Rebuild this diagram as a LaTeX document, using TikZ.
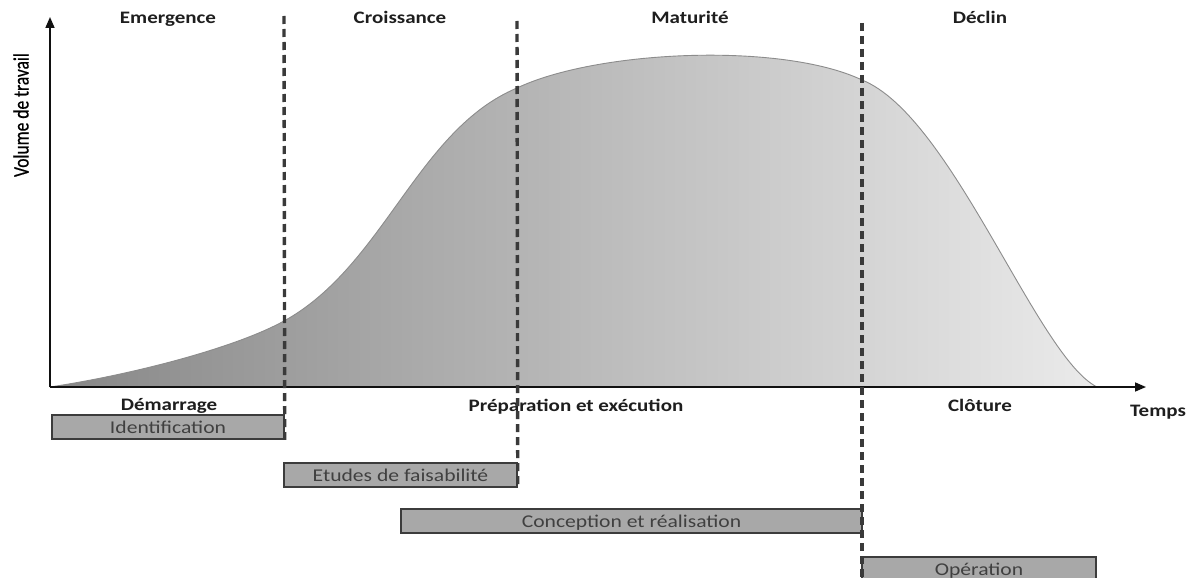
\documentclass[tikz,border=0pt]{standalone}
\usepackage{fontspec}
\setmainfont{Carlito}[FakeStretch=1.2]
\newfontfamily\plainfont{Carlito}[FakeBold=0.7]
\usetikzlibrary{arrows.meta}

\definecolor{axisblack}{HTML}{111111}
\definecolor{dividergray}{HTML}{3A3A3A}
\definecolor{barfill}{HTML}{A8A8A8}
\definecolor{barline}{HTML}{3C3C3C}
\definecolor{bartext}{HTML}{404040}
\definecolor{labeltext}{HTML}{1E1E1E}
\definecolor{curveedge}{HTML}{8C8C8C}

\tikzset{
  phase/.style={font=\fontsize{17.5}{20}\selectfont\bfseries, text=labeltext, anchor=base, inner sep=0pt},
  taskbar/.style={draw=barline, line width=1.5pt, fill=barfill, inner sep=0pt,
    text=bartext, font=\fontsize{18}{21}\selectfont, text height=12pt, text depth=0pt},
  divider/.style={draw=dividergray, line width=3.4pt, dash pattern=on 8pt off 5pt},
  axisline/.style={draw=axisblack, line width=1.6pt, -{Triangle[length=11pt,width=9pt]}}
}

\begin{document}
\begin{tikzpicture}[x=1pt, y=-1pt]
\clip (0,0) rectangle (1197,578);
\fill[white] (0,0) rectangle (1197,578);

% workload curve, shaded from dark to light
\shade[left color=black!47, middle color=black!21, right color=black!8, draw=curveedge, line width=0.9pt]
  (50,387) .. controls (130,375) and (234,348.5) .. (284,321)
           .. controls (384,266) and (417,130) .. (517,88)
           .. controls (597,50) and (782,42) .. (862,80)
           .. controls (952,116) and (1037,357) .. (1097,387)
  -- cycle;

% axes
\coordinate (origin) at (50,387);
\coordinate (ytip) at (50,17);
\coordinate (xtip) at (1146,387);
\draw[axisline] (origin) -- (ytip);
\draw[axisline] (origin) -- (xtip);

\node[rotate=90, text=black, inner sep=0pt] (ylabel) at (21,115)
  {\scalebox{1}[1.25]{\plainfont\fontsize{17.5}{20}\selectfont Volume de travail}};
\node[phase] (temps) at (1158,416) {Temps};

% phase names above the curve
\node[phase] (emergence) at (168,24) {Emergence};
\node[phase] (croissance) at (400,24) {Croissance};
\node[phase] (maturite) at (690,24) {Maturité};
\node[phase] (declin) at (980,24) {Déclin};

% stage names below the axis
\node[phase] (demarrage) at (169,410) {Démarrage};
\node[phase] (preparation) at (576,411) {Préparation et exécution};
\node[phase] (cloture) at (980,411) {Clôture};

% task bars
\node[taskbar, minimum width=232pt, minimum height=24pt] (ident) at (168,427) {Identification};
\node[taskbar, minimum width=233pt, minimum height=24pt] (etudes) at (400.5,475) {Etudes de faisabilité};
\node[taskbar, minimum width=461pt, minimum height=24pt] (conception) at (631.5,521) {Conception et réalisation};
\node[taskbar, minimum width=234pt, minimum height=24pt] (operation) at (979,569) {Opération};

% dashed dividers between phases
\coordinate (d1top) at (284,16);
\coordinate (d2top) at (517,21);
\coordinate (d3top) at (862,23);
\coordinate (d3bot) at (862,578);
\draw[divider] (d1top) -- (ident.south east);
\draw[divider] (d2top) -- (etudes.south east);
\draw[divider] (d3top) -- (d3bot);
\end{tikzpicture}
\end{document}
